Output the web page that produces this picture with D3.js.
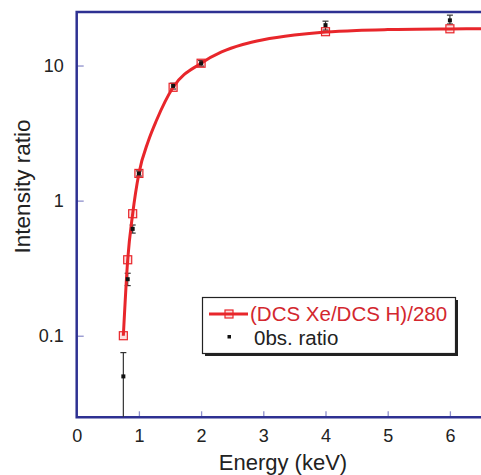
<!DOCTYPE html>
<html><head><meta charset="utf-8">
<script src="https://cdn.jsdelivr.net/npm/d3@7"></script>
<style>body{margin:0;background:#fff}svg{display:block}</style>
</head><body>
<script>
// Theory (DCS Xe / DCS H)/280 — square markers
const theoryE = [0.75, 0.82, 0.90, 1.0, 1.55, 2.0, 4.0, 6.0];
const theoryR = [0.100, 0.365, 0.80, 1.59, 6.9, 10.4, 17.8, 18.7];
// Smooth theory curve
const curveE = [0.75, 0.82, 0.90, 1.0, 1.15, 1.28, 1.55, 2.0, 2.33, 2.67, 3.0, 3.5, 4.0, 4.5, 5.0, 6.0, 6.5];
const curveR = [0.100, 0.365, 0.80, 1.59, 2.75, 3.9, 6.9, 10.4, 12.6, 14.3, 15.5, 16.8, 17.7, 18.2, 18.45, 18.65, 18.7];
// Observed ratio with error bars
const obsE  = [0.75, 0.82, 0.90, 1.0, 1.55, 2.0, 4.0, 6.0];
const obsR  = [0.050, 0.262, 0.618, 1.59, 7.07, 10.4, 19.9, 21.6];
const obsLo = [0.025, 0.235, 0.575, 1.52, 6.7, 9.9, 18.3, 20.3];
const obsHi = [0.075, 0.29, 0.66, 1.66, 7.4, 10.9, 21.3, 23.6];
const xTicks = [0, 1, 2, 3, 4, 5, 6];
const yTicks = [0.1, 1, 10];
const yTickLabels = ["0.1", "1", "10"];
const legendLabels = ["(DCS Xe/DCS H)/280", "0bs. ratio"];

const W = 481, H = 475;
const m = {left: 76.7, top: 12, right: 481, bottom: 417.3};
const svg = d3.select("body").append("svg").attr("width", W).attr("height", H);
const x = d3.scaleLinear().domain([0, 6.5]).range([m.left, m.right]);
const y = d3.scaleLog().domain([0.0249, 24.9]).range([m.bottom, m.top]);

const navy = "#2e3192", tickC = "#8e90cc", red = "#e8262b", font = "Liberation Sans, Arial, sans-serif";

// ticks
const xAxis = d3.axisBottom(x).tickValues(xTicks).tickSizeInner(-6).tickSizeOuter(0).tickPadding(12).tickFormat(d3.format("d"));
const gx = svg.append("g").attr("transform", `translate(0,${m.bottom})`).call(xAxis);
gx.select(".domain").remove();
gx.selectAll(".tick line").attr("stroke", tickC).attr("stroke-width", 1.3);
gx.selectAll(".tick").filter(d => d === 0).select("line").remove();
gx.selectAll("text").attr("font-family", font).attr("font-size", 18).attr("fill", "#222");

const yAxis = d3.axisLeft(y).tickValues(yTicks).tickSizeInner(-7).tickSizeOuter(0).tickPadding(13).tickFormat((d, i) => yTickLabels[i]);
const gy = svg.append("g").attr("transform", `translate(${m.left},0)`).call(yAxis);
gy.select(".domain").remove();
gy.selectAll(".tick line").attr("stroke", tickC).attr("stroke-width", 1.3);
gy.selectAll("text").attr("font-family", font).attr("font-size", 18).attr("fill", "#222");

// frame
svg.append("path").attr("d", `M${W},${m.top}H${m.left}V${m.bottom}H${W}`)
  .attr("fill", "none").attr("stroke", navy).attr("stroke-width", 2.5);

// observed error bars
const obs = obsE.map((e, i) => ({e, r: obsR[i], lo: obsLo[i], hi: obsHi[i]}));
const eb = svg.append("g").attr("stroke", "#333").attr("stroke-width", 1.2);
obs.forEach(d => {
  eb.append("line").attr("x1", x(d.e)).attr("x2", x(d.e)).attr("y1", y(d.lo)).attr("y2", y(d.hi));
  eb.append("line").attr("x1", x(d.e) - 3).attr("x2", x(d.e) + 3).attr("y1", y(d.hi)).attr("y2", y(d.hi));
  if (d.lo > 0.026) eb.append("line").attr("x1", x(d.e) - 3).attr("x2", x(d.e) + 3).attr("y1", y(d.lo)).attr("y2", y(d.lo));
});

// theory curve
const line = d3.line().x(d => x(d[0])).y(d => y(d[1])).curve(d3.curveMonotoneX);
svg.append("path").datum(curveE.map((e, i) => [e, curveR[i]]))
  .attr("d", line).attr("fill", "none").attr("stroke", red).attr("stroke-width", 3);

// theory squares
svg.append("g").selectAll("rect").data(theoryE.map((e, i) => [e, theoryR[i]])).join("rect")
  .attr("x", d => x(d[0]) - 4).attr("y", d => y(d[1]) - 4).attr("width", 8).attr("height", 8)
  .attr("fill", "rgba(232,38,43,0.15)").attr("stroke", red).attr("stroke-width", 1.2);

// observed points
svg.append("g").selectAll("rect").data(obs).join("rect")
  .attr("x", d => x(d.e) - 2).attr("y", d => y(d.r) - 2).attr("width", 4).attr("height", 4).attr("fill", "#111");

// legend
const lg = svg.append("g");
lg.append("rect").attr("x", 205).attr("y", 300).attr("width", 253).attr("height", 56).attr("fill", "#222");
lg.append("rect").attr("x", 202.5).attr("y", 297.5).attr("width", 253).attr("height", 56)
  .attr("fill", "#fff").attr("stroke", "#222").attr("stroke-width", 1.2);
lg.append("line").attr("x1", 209).attr("x2", 248).attr("y1", 314).attr("y2", 314).attr("stroke", red).attr("stroke-width", 3);
lg.append("rect").attr("x", 225).attr("y", 310).attr("width", 8).attr("height", 8)
  .attr("fill", "rgba(232,38,43,0.15)").attr("stroke", red).attr("stroke-width", 1.2);
lg.append("text").attr("x", 250).attr("y", 321).text(legendLabels[0])
  .attr("font-family", font).attr("font-size", 20.5).attr("fill", "#d3272e");
lg.append("rect").attr("x", 227.5).attr("y", 335).attr("width", 3.5).attr("height", 3.5).attr("fill", "#111");
lg.append("text").attr("x", 254).attr("y", 345).text(legendLabels[1])
  .attr("font-family", font).attr("font-size", 20.5).attr("fill", "#222");

// axis titles
svg.append("text").attr("x", 283).attr("y", 470).attr("text-anchor", "middle").text("Energy (keV)")
  .attr("font-family", font).attr("font-size", 22).attr("fill", "#222");
svg.append("text").attr("transform", "translate(30,186.5) rotate(-90)").attr("text-anchor", "middle").text("Intensity ratio")
  .attr("font-family", font).attr("font-size", 22.5).attr("fill", "#222");
</script>
</body></html>
